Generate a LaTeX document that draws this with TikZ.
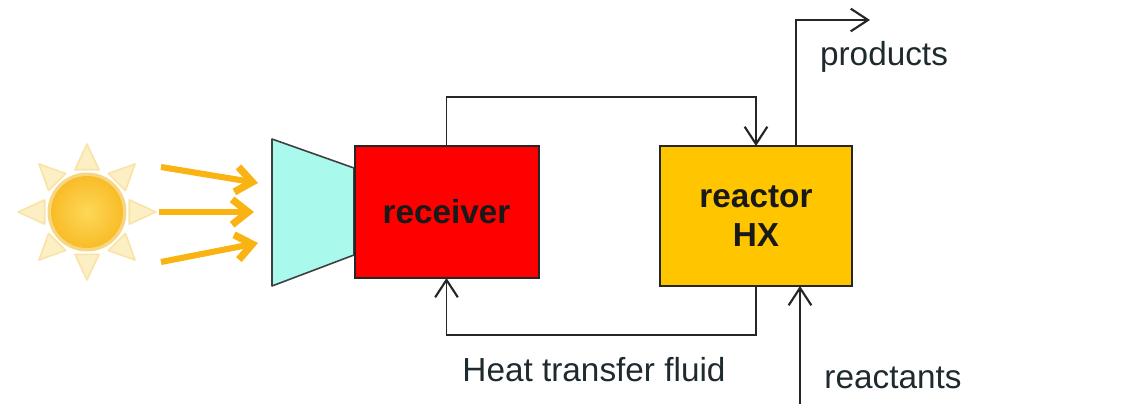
\documentclass[tikz,border=0pt]{standalone}
\usepackage{fontspec}
\setmainfont{Liberation Sans}
\usetikzlibrary{arrows.meta,calc}
\definecolor{sunray}{HTML}{FCEFC4}
\definecolor{sunrayedge}{HTML}{F9E4A8}
\definecolor{sunring}{HTML}{F7D680}
\definecolor{suncore}{HTML}{FDD858}
\definecolor{sunrim}{HTML}{F9BC28}
\definecolor{beam}{HTML}{F9B414}
\definecolor{funnelfill}{HTML}{A9F9EC}
\definecolor{txt}{HTML}{1E2A2E}
\tikzset{
  box/.style={draw=black!85,line width=1.5pt,outer sep=0pt,inner sep=0pt,align=center,font=\bfseries\fontsize{25}{29}\selectfont,text=black!90},
  flow/.style={draw=black!85,line width=1.4pt,-{Straight Barb[length=13pt,width=17pt,line width=1.6pt]}},
  beamarrow/.style={draw=beam,line width=4.6pt,-{Straight Barb[length=12pt,width=19pt,line width=5.5pt]}},
  label/.style={font=\fontsize{25}{29}\selectfont,text=txt,inner sep=0pt},
  ray/.style={fill=sunray,draw=sunrayedge,line width=1.2pt,line join=round}
}
\begin{document}
\begin{tikzpicture}[x=0.75pt,y=-0.75pt]
\useasboundingbox (0,0) rectangle (1132,404);
% sun
\coordinate (sun) at (87,212);
\foreach \a/\r in {0/69,45/68,90/68,135/68,180/69,225/68,270/68,315/68}{
  \fill[ray] ($(sun)+(\a-16:44)$) -- ($(sun)+(\a:\r)$) -- ($(sun)+(\a+16:44)$) -- cycle;
}
\fill[sunring] (sun) circle (39.5);
\shade[inner color=suncore,outer color=sunrim] (sun) circle (36);
% beams
\coordinate (b1s) at (161,167); \coordinate (b1e) at (258,183);
\coordinate (b2s) at (159,212); \coordinate (b2e) at (254,212);
\coordinate (b3s) at (161,262); \coordinate (b3e) at (258,243);
\draw[beamarrow] (b1s) -- (b1e);
\draw[beamarrow] (b2s) -- (b2e);
\draw[beamarrow] (b3s) -- (b3e);
% funnel
\draw[fill=funnelfill,draw=black!75,line width=1.2pt,line join=round] (272,139) -- (354,168) -- (354,255) -- (272,286) -- cycle;
% boxes
\node[box,fill=red,minimum width=138pt,minimum height=99pt] (rec) at (446.5,212) {receiver};
\node[box,fill={rgb,255:red,255;green,198;blue,0},minimum width=144.5pt,minimum height=105pt] (hx) at (756,216) {\raisebox{-2pt}{reactor}\\[2pt]HX};
% connectors
\coordinate (top) at (0,97);
\coordinate (low) at (0,335);
\coordinate (prod) at (870,20);
\coordinate (reactin) at (800,404);
\draw[flow] (rec.north) -- (rec.north |- top) -- (hx.north |- top) -- (hx.north);
\draw[flow] (hx.south) -- (hx.south |- low) -- (rec.south |- low) -- (rec.south);
\draw[flow] ([xshift=30pt]hx.north) |- (prod);
\draw[flow] (reactin) -- (reactin |- hx.south);
% labels
\node[label] (lprod) at (884,57) {products};
\node[label] (lfluid) at (594,370) {Heat transfer fluid};
\node[label] (lreact) at (893,378) {reactants};
\end{tikzpicture}
\end{document}
